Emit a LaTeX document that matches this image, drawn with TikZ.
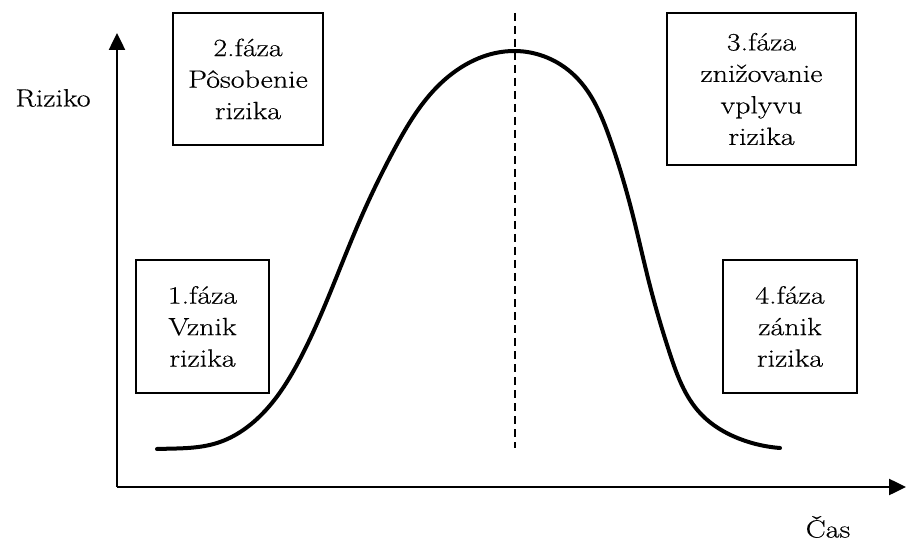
\documentclass[tikz,border=0pt]{standalone}
\usepackage{fontspec}
\setmainfont{Latin Modern Roman}[FakeStretch=1.2,FakeBold=0.4]
\usetikzlibrary{arrows.meta,hobby}
\begin{document}
\begin{tikzpicture}[x=1pt,y=-1pt,
  fazabox/.style={draw,line width=1.4pt,align=center,inner sep=0pt,
    font=\fontsize{25}{31.5}\selectfont},
  axis/.style={line width=2.5pt,-{Triangle[length=17pt,width=16pt]}}]
\useasboundingbox (0,0) rectangle (907,545);
% axes
\coordinate (O) at (117,487);
\coordinate (ytip) at (117,33);
\coordinate (xtip) at (906,487);
\draw[axis] (O) -- (ytip);
\draw[axis] (O) -- (xtip);
\node[font=\fontsize{25}{30}\selectfont] (riziko) at (53,98) {Riziko};
\node[font=\fontsize{25}{30}\selectfont] (cas) at (828,527) {Čas};
% peak line
\coordinate (top) at (515,13);
\coordinate (bot) at (515,448);
\draw[line width=1.7pt,dash pattern=on 8pt off 5pt] (top) -- (bot);
% risk curve
\coordinate (start) at (157,449);
\coordinate (peak) at (515,51);
\coordinate (end) at (780,448);
\draw[line width=4pt,line cap=round,use Hobby shortcut] ([out angle=2]start)
  .. (217,443) .. (265,411) .. (300,359) .. (330,293) .. (360,220)
  .. (395,148) .. (440,84) .. (peak) .. (575,76) .. (610,139)
  .. (632,212) .. (650,286) .. (670,354) .. (700,413) .. (740,439)
  .. (end);
% phases
\node[fazabox,minimum width=133pt,minimum height=133pt] (faza1) at (202.5,326.5)
  {1.fáza\\Vznik\\rizika};
\node[fazabox,minimum width=150pt,minimum height=132pt] (faza2) at (248,79)
  {2.fáza\\Pôsobenie\\rizika};
\node[fazabox,minimum width=189pt,minimum height=152pt] (faza3) at (761.5,89)
  {3.fáza\\znižovanie\\vplyvu\\rizika};
\node[fazabox,minimum width=134pt,minimum height=133pt] (faza4) at (790,326.5)
  {4.fáza\\zánik\\rizika};
\end{tikzpicture}
\end{document}
